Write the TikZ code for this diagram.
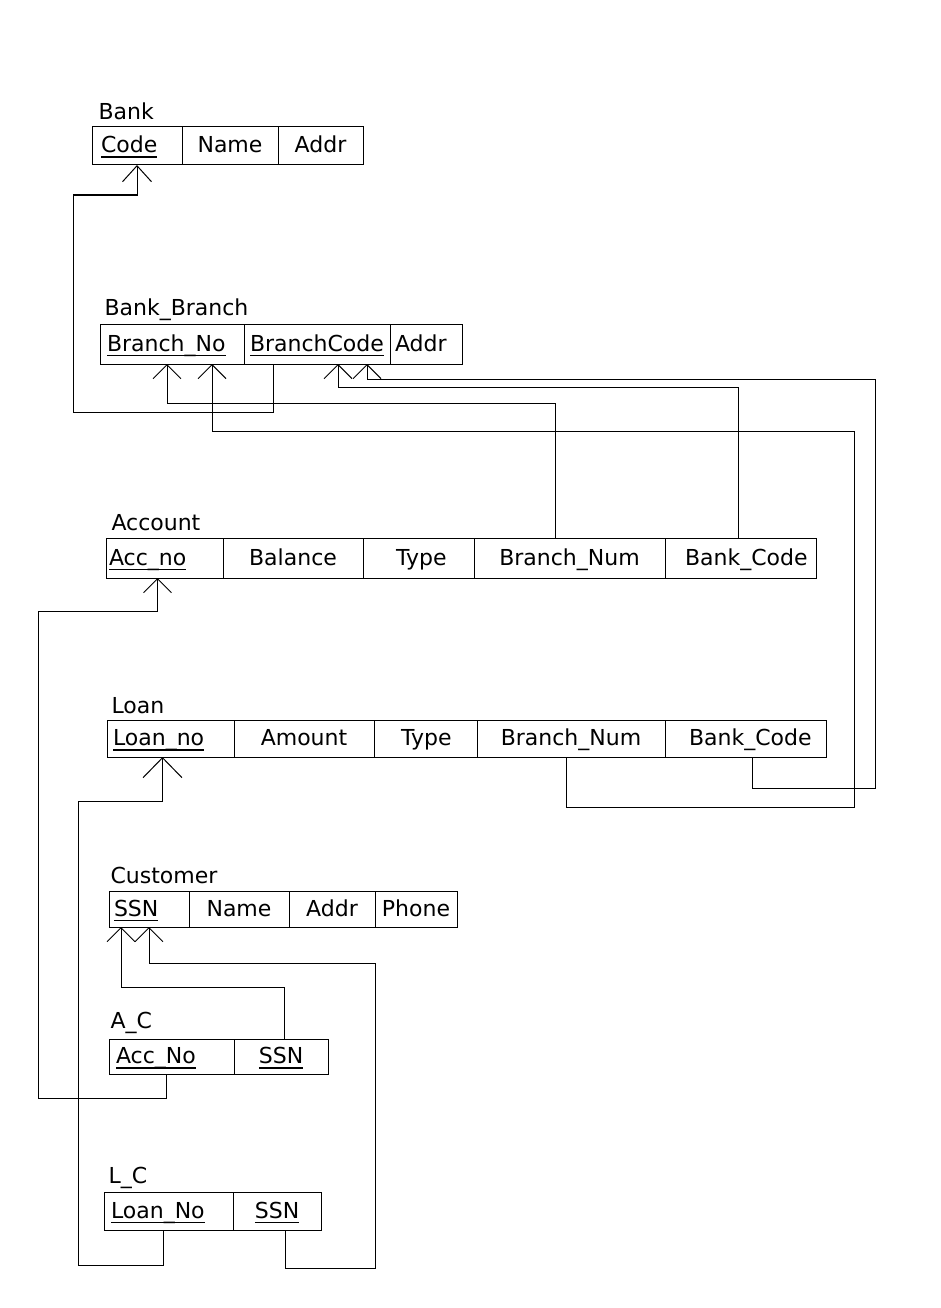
\documentclass[tikz,border=0pt]{standalone}
\usepackage{fontspec}
\setmainfont{DejaVu Sans}
\usetikzlibrary{positioning,calc,arrows.meta}
\newcommand\ukey[1]{\setbox0\hbox{#1}\rlap{\rule[-5pt]{\wd0}{1.5pt}}\box0}
\tikzset{
	cell/.style   = {draw, rectangle, inner sep=0pt, outer sep=0pt, minimum height=#1pt, text height=18pt, text depth=4pt},
	lcell/.style 2 args = {align=left, text width=#1pt, inner xsep=#2pt},
	title/.style  = {anchor=base west, inner sep=0pt},
}

\begin{document}
\begin{tikzpicture}[x=1pt, y=-1pt, line width=1pt, >={Straight Barb[length=14pt,width=28pt]},
	font=\fontsize{22}{26}\selectfont]
	\fill[white] (0,0) rectangle (940,1308);
	\useasboundingbox (0,0) rectangle (940,1308);

	% Bank
	\node[title] (banktitle) at (98,120) {Bank};
	\node[cell=38, lcell={72}{9}, anchor=north west] (bcode) at (92,127) {\ukey{Code}};
	\node[cell=38, minimum width=96pt, right=0pt of bcode] (bname) {Name};
	\node[cell=38, minimum width=85pt, right=0pt of bname] (baddr) {Addr};

	% Bank_Branch
	\node[title] (brtitle) at (104,315) {Bank\_Branch};
	\node[cell=40, lcell={130}{7}, anchor=north west] (brno) at (100,324) {\ukey{Branch\_No}};
	\node[cell=40, lcell={134}{6}, right=0pt of brno] (brcode) {\ukey{BranchCode}};
	\node[cell=40, lcell={62}{5}, right=0pt of brcode] (braddr) {Addr};

	% Account
	\node[title] (acctitle) at (111,530) {Account};
	\node[cell=40, lcell={111}{3}, anchor=north west] (accno) at (106,538) {\ukey{Acc\_no}};
	\node[cell=40, minimum width=140pt, right=0pt of accno] (accbal) {Balance};
	\node[cell=40, lcell={45}{33}, right=0pt of accbal] (acctype) {Type};
	\node[cell=40, minimum width=191pt, right=0pt of acctype] (accbrnum) {Branch\_Num};
	\node[cell=40, lcell={111}{20}, right=0pt of accbrnum] (accbkcode) {Bank\_Code};

	% Loan
	\node[title] (lntitle) at (111,713) {Loan};
	\node[cell=37, lcell={115}{6}, anchor=north west] (lnno) at (107,720) {\ukey{Loan\_no}};
	\node[cell=37, minimum width=140pt, right=0pt of lnno] (lnamt) {Amount};
	\node[cell=37, lcell={49}{27}, right=0pt of lnamt] (lntype) {Type};
	\node[cell=37, minimum width=188pt, right=0pt of lntype] (lnbrnum) {Branch\_Num};
	\node[cell=37, lcell={113}{24}, right=0pt of lnbrnum] (lnbkcode) {Bank\_Code};

	% Customer
	\node[title] (ctitle) at (110,883) {Customer};
	\node[cell=36, lcell={70}{5}, anchor=north west] (cssn) at (109,891) {\ukey{SSN}};
	\node[cell=36, minimum width=100pt, right=0pt of cssn] (cname) {Name};
	\node[cell=36, minimum width=86pt, right=0pt of cname] (caddr) {Addr};
	\node[cell=36, minimum width=82pt, right=0pt of caddr] (cphone) {Phone};

	% A_C
	\node[title] (actitle) at (110,1028) {A\_C};
	\node[cell=35, lcell={111}{7}, anchor=north west] (acacc) at (109,1039) {\ukey{Acc\_No}};
	\node[cell=35, minimum width=94pt, right=0pt of acacc] (acssn) {\ukey{SSN}};

	% L_C
	\node[title] (lctitle) at (108,1183) {L\_C};
	\node[cell=38, lcell={115}{7}, anchor=north west] (lcloan) at (104,1192) {\ukey{Loan\_No}};
	\node[cell=38, minimum width=88pt, right=0pt of lcloan] (lcssn) {\ukey{SSN}};

	% Foreign keys
	\draw[->, >={Straight Barb[length=16pt,width=29pt]}] ($(brcode.south west)+(29,0)$) -- ++(0,48) -| (73,195) -| (bcode.south);
	\draw[->] ($(accbrnum.north)+(-14,0)$) |- ($(brno.south)+(-5,39)$) -- ($(brno.south)+(-5,0)$);
	\draw[->] ($(lnbrnum.south)+(-5,0)$) |- (854,807) |- ($(brno.south)+(40,67)$) -- ($(brno.south)+(40,0)$);
	\draw[->] ($(accbkcode.north)+(-2,0)$) |- ($(brcode.south)+(21,23)$) -- ($(brcode.south)+(21,0)$);
	\draw[->] ($(lnbkcode.south)+(7,0)$) |- (875,788) |- ($(brcode.south)+(50,15)$) -- ($(brcode.south)+(50,0)$);
	\draw[->] ($(acacc.south)+(-5,0)$) |- (38,1098) |- ($(accno.south)+(-7,33)$) -- ($(accno.south)+(-7,0)$);
	\draw[->, >={Straight Barb[length=20pt,width=39pt]}] ($(lcloan.south)+(-5,0)$) |- (78,1265) |- ($(lnno.south)+(-8,44)$) -- ($(lnno.south)+(-8,0)$);
	\draw[->] ($(acssn.north)+(3,0)$) |- ($(cssn.south)+(-28,60)$) -- ($(cssn.south)+(-28,0)$);
	\draw[->] ($(lcssn.south)+(8,0)$) |- (375,1268) |- ($(cssn.south)+(0,36)$) -- (cssn.south);
\end{tikzpicture}
\end{document}
